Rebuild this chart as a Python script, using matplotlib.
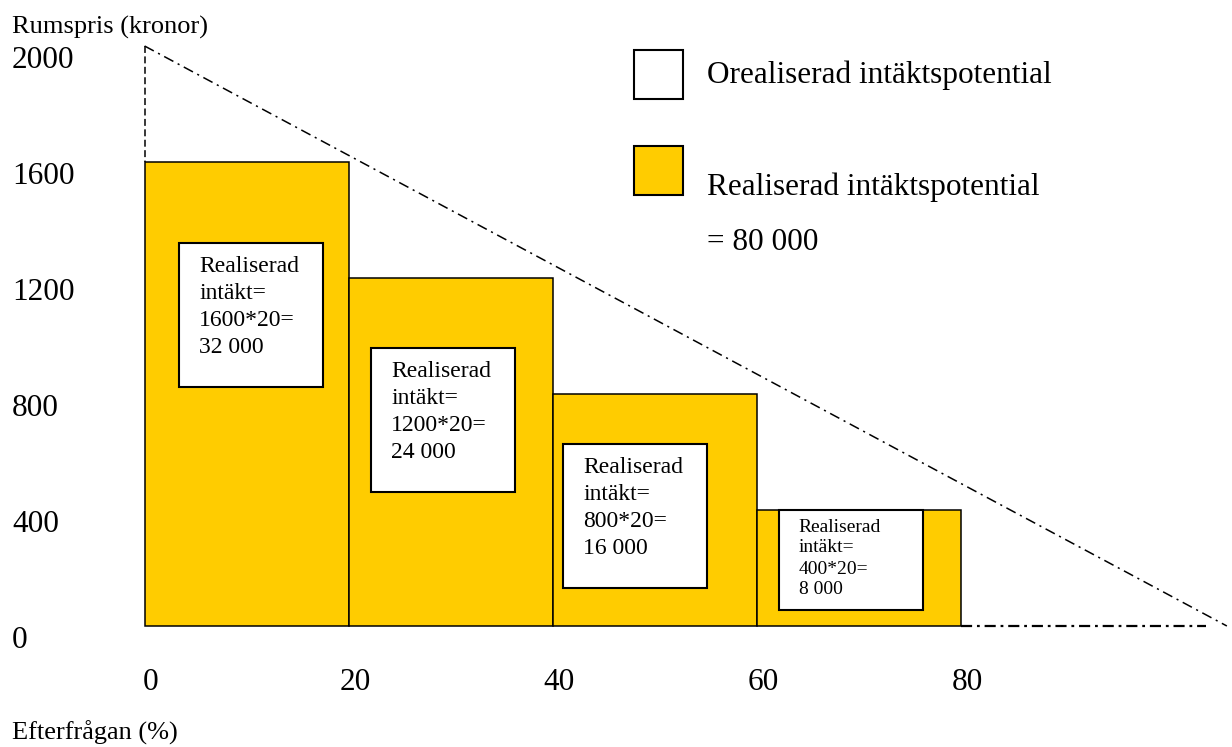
import matplotlib
matplotlib.use("Agg")
import matplotlib.pyplot as plt
from matplotlib.patches import Rectangle
from matplotlib.transforms import ScaledTranslation

plt.rcParams["font.family"] = ["Liberation Serif", "DejaVu Serif"]
plt.rcParams["lines.scale_dashes"] = False

# ---- data -------------------------------------------------------------
demand_start = [0, 20, 40, 60]          # Efterfrågan (%) where each block starts
block_width = 20                        # demand share per block (%)
room_price = [1600, 1200, 800, 400]     # Rumspris (kronor)

price_ticks = [0, 400, 800, 1200, 1600, 2000]
demand_ticks = [0, 20, 40, 60, 80]

demand_curve_x = [0, 106]               # price-demand line
demand_curve_y = [2000, 0]

legend_labels = ["Orealiserad intäktspotential", "Realiserad intäktspotential"]

# ---- layout -----------------------------------------------------------
W, H, DPI = 1232, 747, 100
X_ORIGIN_PX, PX_PER_X = 144.6, 10.21
BASE_PX, PX_PER_Y = 626, 0.29
GOLD = "#FFCC00"

# annotation boxes (left, bottom, top) in data units, fixed width
box_left = [3.4, 22.2, 41.0, 62.1]
box_bottom = [824, 462, 131, 55]
box_top = [1321, 959, 628, 400]
box_w = 14.1

fig = plt.figure(figsize=(W / DPI, H / DPI), dpi=DPI)
ax = fig.add_axes([0, 0, 1, 1])
ax.set_axis_off()
ax.set_xlim(-X_ORIGIN_PX / PX_PER_X, (W - X_ORIGIN_PX) / PX_PER_X)
ax.set_ylim(-(H - BASE_PX) / PX_PER_Y, BASE_PX / PX_PER_Y)


def shifted(base, dx_px, dy_px):
    return base + ScaledTranslation(dx_px / DPI, -dy_px / DPI, fig.dpi_scale_trans)


def fmt_thousands(v):
    return f"{v:,}".replace(",", " ")


# price-demand triangle
ax.plot(demand_curve_x, demand_curve_y, color="black", lw=1.1,
        linestyle=(0, (7.5, 3.5, 1.5, 3.5)), zorder=1)
ax.plot([0, 0], [demand_curve_y[0], room_price[0]], color="black", lw=1.1,
        linestyle=(0, (5, 2.5)), zorder=1)
last_end = demand_start[-1] + block_width
ax.plot([last_end, demand_curve_x[1] - 2], [0, 0], color="black", lw=1.6,
        linestyle=(0, (8, 3.5, 2, 3.5)), zorder=1)

# realised revenue blocks
ax.bar(demand_start, room_price, width=block_width, align="edge",
       color=GOLD, edgecolor="black", linewidth=1.1, zorder=2)

# revenue annotation boxes
for i, (p, x0) in enumerate(zip(room_price, demand_start)):
    bl, bb, bt = box_left[i], box_bottom[i], box_top[i]
    ax.add_patch(Rectangle((bl, bb), box_w, bt - bb, facecolor="white",
                           edgecolor="black", linewidth=1.5, zorder=3))
    lines = ["Realiserad", "intäkt=", f"{p}*{block_width}=",
             fmt_thousands(p * block_width)]
    small = i == len(room_price) - 1
    fs = 14 if small else 17
    first, step = (17, 21) if small else (24, 27)
    for k, line in enumerate(lines):
        ax.text(bl, bt, line, fontsize=fs, ha="left", va="center",
                transform=shifted(ax.transData, 20, first + k * step), zorder=4)

# axis labels drawn as plain text
for v in price_ticks:
    ax.text(0, v, str(v), fontsize=22.5, ha="left", va="center",
            transform=shifted(ax.get_yaxis_transform(), 12, 14))
for v in demand_ticks:
    ax.text(v, 0, str(v), fontsize=22.5, ha="center", va="center",
            transform=shifted(ax.transData, 6, 57))

fig.text(12 / W, 1 - 27 / H, "Rumspris (kronor)", fontsize=19,
         ha="left", va="center")
fig.text(12 / W, 1 - 733 / H, "Efterfrågan (%)", fontsize=19,
         ha="left", va="center")

# legend
total = sum(p * block_width for p in room_price)
for (top_px, face) in [(50, "white"), (146, GOLD)]:
    fig.add_artist(Rectangle((634 / W, 1 - (top_px + 49) / H), 49 / W, 49 / H,
                             transform=fig.transFigure, facecolor=face,
                             edgecolor="black", linewidth=1.5))
fig.text(707 / W, 1 - 75 / H, legend_labels[0], fontsize=22.5, ha="left", va="center")
fig.text(707 / W, 1 - 187 / H, legend_labels[1], fontsize=22.5, ha="left", va="center")
fig.text(707 / W, 1 - 242 / H, f"= {fmt_thousands(total)}", fontsize=22.5,
         ha="left", va="center")

fig.savefig("out.png", dpi=DPI)
